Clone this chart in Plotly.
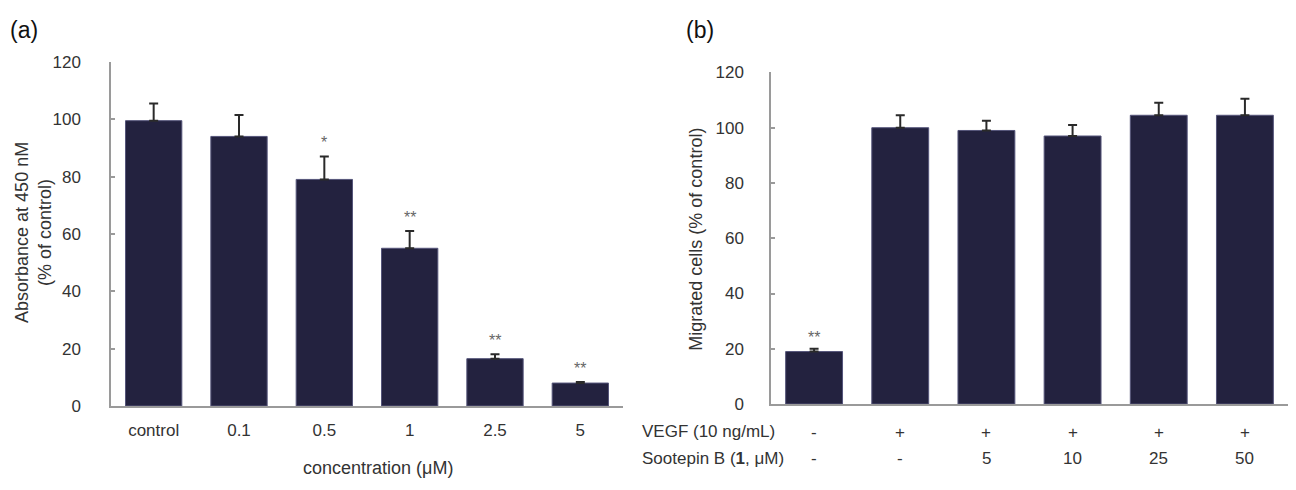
import plotly.graph_objects as go

# ---- data ----
conc_labels = ["control", "0.1", "0.5", "1", "2.5", "5"]
absorbance = [99.5, 94, 79, 55, 16.5, 8]
absorbance_err = [6, 7.5, 8, 6, 1.5, 0.4]
absorbance_sig = ["", "", "*", "**", "**", "**"]

groups_b = ["g1", "g2", "g3", "g4", "g5", "g6"]
vegf_row = ["-", "+", "+", "+", "+", "+"]
sootepin_row = ["-", "-", "5", "10", "25", "50"]
migrated = [19, 100, 99, 97, 104.5, 104.5]
migrated_err = [1, 4.5, 3.5, 4, 4.5, 6]
migrated_sig = ["**", "", "", "", "", ""]

yticks = [0, 20, 40, 60, 80, 100, 120]

BAR = "#23223f"
EDGE = "#55557a"
AX = "#9a9a9a"
TXT = "#333333"
FONT = "Liberation Sans, Arial, sans-serif"
TICK = 17

H = 490.0
W = 1296.0
def py(p):
    return 1 - p / H

fig = go.Figure()

fig.add_trace(go.Bar(
    x=conc_labels, y=absorbance, width=0.66,
    marker=dict(color=BAR, line=dict(color=EDGE, width=1)),
    error_y=dict(type="data", array=absorbance_err, arrayminus=[0]*len(absorbance),
                 symmetric=False, color="#2a2a2a", thickness=2, width=4.5),
    xaxis="x", yaxis="y", showlegend=False, hoverinfo="skip"))

fig.add_trace(go.Bar(
    x=groups_b, y=migrated, width=0.66,
    marker=dict(color=BAR, line=dict(color=EDGE, width=1)),
    error_y=dict(type="data", array=migrated_err, arrayminus=[0]*len(migrated),
                 symmetric=False, color="#2a2a2a", thickness=2, width=4.5),
    xaxis="x2", yaxis="y2", showlegend=False, hoverinfo="skip"))

ann = []
for i, (v, e, s) in enumerate(zip(absorbance, absorbance_err, absorbance_sig)):
    if s:
        ann.append(dict(x=i, y=v + e, xref="x", yref="y", text=s, showarrow=False,
                        yanchor="bottom", yshift=3, font=dict(size=16, color="#666666", family=FONT)))
for i, (v, e, s) in enumerate(zip(migrated, migrated_err, migrated_sig)):
    if s:
        ann.append(dict(x=i, y=v + e, xref="x2", yref="y2", text=s, showarrow=False,
                        yanchor="bottom", yshift=1, font=dict(size=16, color="#666666", family=FONT)))

# panel b condition rows
for i, (vv, sv) in enumerate(zip(vegf_row, sootepin_row)):
    ann.append(dict(x=i, y=py(441), xref="x2", yref="paper", yanchor="middle", text=vv,
                    showarrow=False, font=dict(size=TICK, color=TXT, family=FONT)))
    ann.append(dict(x=i, y=py(468), xref="x2", yref="paper", yanchor="middle", text=sv,
                    showarrow=False, font=dict(size=TICK, color=TXT, family=FONT)))

ann += [
    dict(x=640 / W, y=py(440), xref="paper", yref="paper", xanchor="left", yanchor="middle",
         text="VEGF (10 ng/mL)", showarrow=False, font=dict(size=TICK, color=TXT, family=FONT)),
    dict(x=640 / W, y=py(468), xref="paper", yref="paper", xanchor="left", yanchor="middle",
         text="Sootepin B (<b>1</b>, μM)", showarrow=False, font=dict(size=TICK, color=TXT, family=FONT)),
    dict(x=24 / W, y=py(22), xref="paper", yref="paper", xanchor="center", yanchor="middle",
         text="(a)", showarrow=False, font=dict(size=23, color="#111111", family=FONT)),
    dict(x=700 / W, y=py(22), xref="paper", yref="paper", xanchor="center", yanchor="middle",
         text="(b)", showarrow=False, font=dict(size=23, color="#111111", family=FONT)),
    dict(x=34 / W, y=py(233), xref="paper", yref="paper", xanchor="center", yanchor="middle",
         text="Absorbance at 450 nM<br>(% of control)", textangle=-90, showarrow=False,
         font=dict(size=18, color=TXT, family=FONT)),
    dict(x=696 / W, y=py(240), xref="paper", yref="paper", xanchor="center", yanchor="middle",
         text="Migrated cells (% of control)", textangle=-90, showarrow=False,
         font=dict(size=18, color=TXT, family=FONT)),
    dict(x=378 / W, y=py(477), xref="paper", yref="paper", xanchor="center", yanchor="middle",
         text="concentration (μM)", showarrow=False, font=dict(size=18, color=TXT, family=FONT)),
]

xa = dict(type="category", showline=True, linecolor=AX, linewidth=1.5, ticks="", showgrid=False,
          zeroline=False, range=[-0.5, 5.5], fixedrange=True)
ya = dict(showline=True, linecolor=AX, linewidth=1.5, ticks="inside", ticklen=4, tickcolor=AX,
          tickwidth=1.5, showgrid=False, zeroline=False, range=[0, 120], tickvals=yticks,
          tickfont=dict(size=TICK, color=TXT, family=FONT))

fig.update_layout(
    width=1296, height=490,
    margin=dict(l=0, r=0, t=0, b=0),
    paper_bgcolor="white", plot_bgcolor="white",
    xaxis=dict(xa, domain=[111 / W, 623 / W], anchor="y",
               tickfont=dict(size=TICK, color=TXT, family=FONT), ticklabelstandoff=8),
    yaxis=dict(ya, domain=[1 - 413 / H, 1 - 55 / H], anchor="x", ticklabelstandoff=25),
    xaxis2=dict(xa, domain=[771 / W, 1288 / W], anchor="y2", showticklabels=False),
    yaxis2=dict(ya, domain=[1 - 411 / H, 1 - 66 / H], anchor="x2", ticklabelstandoff=22),
    annotations=ann,
    font=dict(family=FONT),
)

fig.write_html("out.html", config={"displayModeBar": False},
               post_script="document.body.style.margin='0';document.body.style.overflow='hidden';")
